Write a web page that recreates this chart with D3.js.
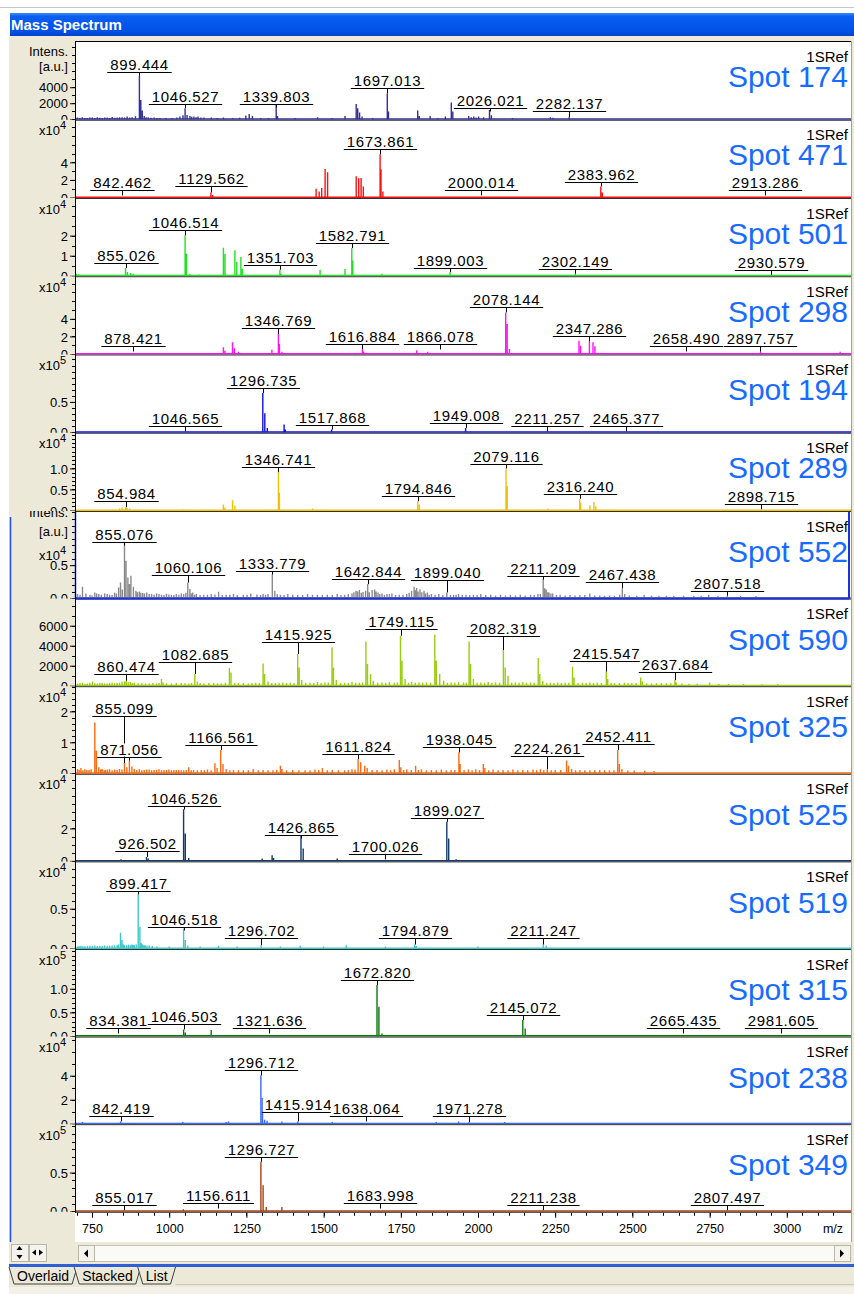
<!DOCTYPE html>
<html><head><meta charset="utf-8">
<script src="https://cdn.jsdelivr.net/npm/d3@7"></script>
<style>
body{margin:0;background:#fff;}
svg{display:block;font-family:"Liberation Sans",Arial,sans-serif;}
</style></head><body><svg id="c" width="854" height="1294"></svg>
<script>
// ---------------- DATA ----------------
const spotNames = ["Spot 174","Spot 471","Spot 501","Spot 298","Spot 194","Spot 289","Spot 552","Spot 590","Spot 325","Spot 525","Spot 519","Spot 315","Spot 238","Spot 349"];
const refName = "1SRef";
const exponents = [0,4,4,4,5,4,4,0,4,4,4,5,4,5];
const yMaxDisplay = [9780,8.9,3.9,8.9,1.29,1.86,1.33,8760,2.83,5.4,1.1,1.85,7.3,1.13];
const majorTicks = [[0,2000,4000],[0,2,4],[0,1,2],[0,2,4],[0,0.5],[0,0.5,1],[0,0.5],[0,2000,4000,6000],[0,1,2],[0,2],[0,0.5],[0,0.5,1],[0,2,4],[0,0.5]];
const minorSteps = [1000,1,0.5,1,0.1,0.1,0.1,1000,0.2,0.5,0.1,0.1,1,0.1];
const tickDecimals = [0,0,0,0,1,1,1,0,0,0,1,1,0,1];
const xTickValues = [750,1000,1250,1500,1750,2000,2250,2500,2750,3000];
const xMinorStep = 50;
const tabNames = ["Overlaid","Stacked","List"];

const spot174Peaks = [[700,210],[708,160],[716,250],[724,150],[732,170],[740,200],[748,210],[756,150],[764,250],[772,180],[780,170],[788,220],[796,210],[804,160],[812,290],[820,180],[828,210],[836,240],[844,250],[852,200],[860,330],[868,220],[876,250],[887,375],
 [899.444,5420],[904,2420],[909,1080],[915,420],[921,260],[928,250],[937,180],[947,210],[956,150],[966,170],[985,150],[1005,170],[1020,200],
 [1030,330],[1040,500],[1046.527,1380],[1053,540],[1062,420],[1068,300],[1075,330],[1082,250],[1088,330],[1097,200],[1107,210],[1131,210],[1150,160],[1170,210],[1200,150],[1222,180],
 [1242,460],[1253,670],[1263,420],[1290,170],[1315,160],[1339.803,1790],[1344,420],[1400,150],[1473,250],[1520,150],[1561,420],
 [1597,1920],[1602,1380],[1608,830],[1616,330],[1650,160],[1697.013,3250],[1701,960],
 [1795,1080],[1800,420],[1835,420],[1860,160],[1884,330],[1903,2080],[1908,960],
 [1959,420],[1967,250],[1975,330],[1983,200],[1991,330],[2007,250],[2026.021,1170],[2032,500],[2100,150],[2222,250],[2230,180],[2282.137,250]];
const spot174Labels = [[899.444,5880],[1046.527,1880],[1339.803,1920],[1697.013,3880],[2026.021,1460],[2282.137,1040]];

const spot471Peaks = [[1129.562,5745],[1135,2680],[1468,9960],[1478,6900],[1486,10720],[1497,32560],[1505,28700],
 [1597,24130],[1605,21800],[1613,22200],[1620,12640],[1673.861,49000],[1677,31800],[1683,6900],[2383.962,12640],[2389,5700]];
const spot471Labels = [[842.462,8000],[1129.562,12600],[1673.861,54700],[2000.014,8000],[2383.962,17200],[2913.286,8000]];

const spot501Peaks = [[697,1000],[705,670],[855.026,3830],[861,1830],[871,1330],[880,1000],[1046.514,20170],[1051,11000],[1062,1000],[1091,670],
 [1170,14000],[1175,11000],[1207,12670],[1213,6830],[1226,9330],[1231,3500],[1351.703,3000],[1355,1000],[1481,3000],[1561,3330],
 [1582.791,13830],[1586,7670],[1680,1000],[1899.003,1830],[2302.149,1000]];
const spot501Labels = [[855.026,6330],[1046.514,22670],[1351.703,5500],[1582.791,16330],[1899.003,3830],[2302.149,3500],[2930.579,3000]];

const spot298Peaks = [[1170,7580],[1175,3790],[1199,13260],[1205,6440],[1218,2650],[1326,4930],[1346.769,22740],[1350,11370],[1358,2650],
 [1616.884,5690],[1621,2650],[1792,4170],[1827,2650],[2078.144,47370],[2083,34110],[2090,5690],[2314,15160],[2319,9480],
 [2347.286,14020],[2359,13260],[2365,8720],[2897.757,2650],[3154,2650]];
const spot298Labels = [[878.421,8720],[1346.769,29180],[1616.884,11370],[1866.078,11370],[2078.144,53820],[2347.286,20850],[2658.490,8720],[2897.757,9480]];

const spot194Peaks = [[1296.735,64660],[1303,31240],[1311,7120],[1365,12600],[1369,4400],[1517.868,4380],[1949.008,7120]];
const spot194Labels = [[1046.565,10960],[1296.735,72880],[1517.868,12600],[1949.008,15340],[2211.257,10960],[2465.377,10960]];

const spot289Peaks = [[836,480],[844,710],[854.984,790],[860,640],[868,480],[1043,240],[1170,1430],[1175,710],[1199,2460],[1207,1190],
 [1346.741,9130],[1350,4210],[1457,480],[1794.846,2220],[1800,1430],[2079.116,10000],[2083,5800],[2214,480],
 [2316.240,2780],[2319,1830],[2349,1190],[2362,1990],[2368,1030]];
const spot289Labels = [[854.984,2220],[1346.741,10320],[1794.846,3410],[2079.116,11120],[2316.240,3810],[2898.715,1430]];

const spot552Peaks = [[703,606],[711,500],[719,1717],[730,707],[743,505],[750,400],[759,859],[765,700],[772,606],[780,500],[791,707],[799,600],[807,505],[815,450],[823,808],[829,700],[836,1616],[842,2374],[848,1300],
 [855.076,8434],[860,5656],[866,3131],[871,2121],[876,3384],[884,1717],[892,1111],[897,900],[903,1010],[908,800],[914,758],[920,700],[927,859],[935,600],[943,606],[951,500],[959,707],[967,600],
 [975,505],[983,450],[991,657],[999,550],[1007,505],[1015,450],[1023,606],[1031,500],[1039,707],[1047,600],[1054,800],[1060.106,2374],[1067,1365],[1072,700],[1076,859],[1082,500],[1088,606],[1100,450],[1112,505],[1124,500],[1136,606],[1148,550],[1160,960],
 [1172,450],[1184,505],[1196,500],[1208,606],[1220,450],[1240,505],[1252,500],[1264,707],[1284,550],[1296,450],[1304,606],[1312,500],[1320,606],[1333.779,3636],[1342,1111],[1350,600],[1360,505],[1372,450],[1384,606],[1400,500],[1416,505],[1432,450],[1448,606],
 [1464,500],[1480,505],[1496,450],[1512,505],[1528,500],[1544,606],[1556,450],[1568,505],[1580,600],[1592,707],[1598,900],[1605,1111],[1610,1000],[1616,1212],[1622,800],[1628,909],[1636,1111],[1642.844,2121],[1648,900],[1657,1212],[1665,1313],
 [1670,1000],[1676,859],[1682,600],[1689,707],[1697,500],[1705,606],[1713,600],[1721,707],[1733,450],[1745,505],[1757,500],[1769,606],[1777,800],[1785,1111],[1793,1717],[1797,1200],[1801,1515],[1806,1000],[1812,1313],[1818,900],[1825,1111],[1830,700],[1836,859],
 [1842,500],[1849,606],[1861,500],[1873,606],[1886,450],[1899.040,859],[1911,450],[1921,505],[1929,500],[1937,606],[1949,450],[1961,505],[1973,450],[1985,505],[1997,450],[2009,606],[2025,450],[2041,505],[2057,400],[2073,505],[2089,400],[2105,505],[2121,400],[2137,505],
 [2153,400],[2170,505],[2182,450],[2194,606],[2202,600],[2211.209,2879],[2216,1500],[2221,1313],[2226,900],[2230,859],[2236,700],[2242,707],[2254,450],[2266,505],[2282,400],[2298,455],[2314,400],[2330,455],[2346,450],[2362,707],[2378,400],[2394,404],[2410,350],[2426,404],[2442,350],
 [2459,500],[2467.438,1465],[2475,600],[2490,404],[2514,350],[2538,505],[2562,350],[2586,354],[2610,350],[2634,354],[2666,350],[2699,354],[2723,350],[2747,505],[2777,350],[2807.518,354],[2850,300],[2900,300]];
const spot552Labels = [[855.076,8585],[1060.106,3535],[1333.779,4040],[1642.844,2879],[1899.040,2727],[2211.209,3384],[2467.438,2374],[2807.518,1111]];

const spot590Peaks = [[703,230],[711,270],[719,300],[727,200],[735,230],[743,280],[751,430],[759,250],[767,230],[775,300],[783,270],[791,220],[799,230],[807,260],[815,300],[823,240],[831,270],[839,300],[847,400],[855,430],[860.474,500],
 [867,350],[874,370],[880,280],[887,300],[899,240],[911,270],[923,220],[935,230],[947,260],[959,230],[967,280],[975,670],[980,330],[991,250],[1007,230],[1023,260],[1039,270],[1051,240],[1063,230],[1072,280],[1082.685,1170],[1091,430],[1100,260],[1112,230],
 [1128,260],[1144,270],[1156,240],[1168,230],[1182,300],[1195,1770],[1200,1330],[1212,280],[1224,270],[1240,260],[1256,230],[1268,270],[1280,300],[1292,280],[1304,2230],[1309,1170],[1320,430],[1332,260],[1344,270],[1356,280],[1368,330],[1380,270],
 [1392,300],[1404,280],[1415.925,3170],[1421,1830],[1429,570],[1442,280],[1456,300],[1468,270],[1480,370],[1492,280],[1504,330],[1515,300],[1527,3830],[1532,1830],[1541,570],[1555,280],[1568,300],[1580,270],[1592,370],[1604,300],
 [1616,300],[1626,330],[1637,4430],[1642,2170],[1652,1170],[1661,500],[1675,300],[1689,330],[1701,300],[1713,370],[1729,300],[1739,330],[1749.115,5000],[1754,2500],[1764,670],[1775,300],[1785,370],[1797,300],
 [1809,330],[1821,300],[1833,330],[1846,300],[1860,5100],[1865,2500],[1876,1170],[1889,500],[1901,300],[1913,330],[1925,300],[1937,370],[1953,330],[1962,300],[1971,4430],[1976,2170],[1985,670],[1997,300],
 [2009,330],[2021,300],[2033,370],[2045,300],[2057,330],[2070,300],[2082.319,3570],[2088,1830],[2097,1000],[2109,300],[2121,330],[2133,300],[2145,370],[2157,300],[2170,330],[2182,300],[2195,2770],[2200,1170],[2210,500],
 [2222,300],[2234,300],[2246,280],[2258,330],[2270,280],[2282,300],[2294,300],[2306,1900],[2311,830],[2324,280],[2338,300],[2350,280],[2362,330],[2374,280],[2386,300],[2400,280],[2415.547,1400],[2420,670],[2431,280],[2442,270],[2458,260],[2474,300],
 [2486,260],[2498,270],[2512,260],[2527,830],[2532,430],[2546,240],[2562,230],[2578,250],[2594,270],[2610,240],[2624,250],[2637.684,570],[2642,330],[2660,230],[2683,200],[2710,200],[2750,330],[2780,180],[2811,170],[2860,160],[2920,150],[2971,170]];
const spot590Labels = [[860.474,1170],[1082.685,2330],[1415.925,4400],[1749.115,5660],[2082.319,5000],[2415.547,2430],[2637.684,1400]];

const spot325Peaks = [[703,1400],[708,1100],[714,1720],[720,1000],[727,1290],[733,1100],[740,1080],[747,1300],[759,16450],[764,7310],[772,1940],[778,1200],[783,1400],[789,1000],[794,1080],[800,1200],[807,1290],[815,1000],[823,1180],[831,1100],
 [839,1400],[847,1200],[855.099,3330],[863,1940],[871.056,4090],[879,2150],[887,1400],[895,1100],[903,1290],[911,1000],[919,1080],[927,1200],[935,1180],[943,1000],[951,1080],[959,1150],[967,1290],[975,1000],[983,1080],
 [991,1100],[999,1180],[1007,1000],[1015,1080],[1023,1100],[1031,1080],[1039,1000],[1047,970],[1055,1100],[1063,1940],[1071,1000],[1079,1080],[1091,1000],[1104,1080],[1114,1000],[1124,1180],[1136,1000],[1148,3230],[1155,1720],[1166.561,7530],
 [1174,3010],[1184,1400],[1196,1000],[1208,1080],[1224,1000],[1240,970],[1256,1000],[1272,1400],[1288,1000],[1304,1080],[1320,1000],[1336,970],[1348,1100],[1360,2470],[1365,1400],[1380,1000],[1400,1080],[1420,1000],[1440,970],[1456,1000],[1472,1180],
 [1484,1100],[1496,1720],[1512,1000],[1528,1080],[1548,1000],[1568,970],[1580,1100],[1592,1290],[1602,1200],[1611.824,4620],[1620,3550],[1633,2470],[1641,1720],[1657,1100],[1673,1080],[1689,1000],[1705,1180],[1717,1000],[1729,1290],
 [1745,4300],[1750,1940],[1759,1100],[1769,1180],[1784,1100],[1798,2470],[1807,1100],[1817,1290],[1833,1000],[1849,1080],[1865,1000],[1881,1180],[1897,1000],[1913,1080],[1925,1100],[1938.045,6770],[1942,3010],[1955,1100],[1969,1180],
 [1981,1000],[1993,1290],[2005,1100],[2017,3010],[2022,1720],[2035,1000],[2049,1180],[2065,1000],[2081,1080],[2097,1000],[2113,1180],[2129,1000],[2145,1080],[2161,1000],[2178,1180],[2190,1000],[2202,1290],[2213,1100],[2224.261,1400],[2237,1000],[2250,1080],
 [2268,1100],[2287,4090],[2293,2470],[2303,1400],[2316,1000],[2330,1080],[2346,1000],[2362,970],[2378,1000],[2394,1080],[2410,1000],[2426,970],[2440,1000],[2452.411,7530],[2458,3010],[2466,1400],[2485,900],[2506,860],[2540,800],[2570,750]];
const spot325Labels = [[855.099,18380],[871.056,5375],[1166.561,9140],[1611.824,6235],[1938.045,8600],[2224.261,5700],[2452.411,9460]];

const spot525Peaks = [[844,1030],[926.502,2470],[932,1440],[1046.526,31900],[1052,16880],[1063,1850],[1301,1440],[1333,3500],[1338,1850],
 [1426.865,15440],[1434,7610],[1544,1440],[1899.027,24080],[1905,13790],[1929,1030]];
const spot525Labels = [[926.502,6170],[1046.526,33750],[1426.865,16260],[1700.026,4530],[1899.027,26550]];

const spot519Peaks = [[703,250],[708,300],[714,340],[720,280],[727,290],[735,300],[743,340],[751,300],[759,380],[767,300],[775,340],[783,320],[791,380],[799,300],[807,340],[815,360],[823,420],[831,400],[836,500],[842,1970],[847,1050],[851,500],[855,420],
 [862,400],[868,460],[874,420],[879,500],[883,440],[887,420],[893,500],[899.417,6800],[905,2730],[909,700],[913,500],[918,400],[922,420],[928,360],[935,380],[945,300],[960,260],[1000,250],[1046.518,2520],[1052,1050],[1060,340],[1100,250],[1160,340],
 [1220,250],[1298,420],[1360,250],[1424,340],[1500,250],[1573,420],[1700,250],[1794.879,500],[1800,300],[2000,250],[2211.247,500],[2221,340]];
const spot519Labels = [[899.417,7270],[1046.518,2730],[1296.702,1260],[1794.879,1260],[2211.247,1260]];

const spot315Peaks = [[1046.503,14080],[1052,7740],[1136,12670],[1672.820,107700],[1679,61950],[1689,5630],[2145.072,33800],[2153,16200]];
const spot315Labels = [[834.381,17600],[1046.503,26050],[1321.636,16190],[1672.820,118270],[2145.072,44350],[2665.435,16190],[2981.605,16190]];

const spot238Peaks = [[719,1390],[842.419,1950],[1044,1390],[1184,1390],[1192,1950],[1296.712,40300],[1302,21400],[1309,3340],[1317,2500],
 [1365,1950],[1415.914,1950],[1528,1390],[1865,1390],[1937,1950],[1971.278,1390],[2086,1390]];
const spot238Labels = [[842.419,6670],[1296.712,44480],[1415.914,9730],[1638.064,6120],[1971.278,6120]];

const spot349Peaks = [[1046,2590],[1296.727,63800],[1304,33600],[1314,5600],[1365,5600]];
const spot349Labels = [[855.017,8620],[1156.611,10780],[1296.727,70250],[1683.998,10780],[2211.238,8620],[2807.497,8620]];

const allPeaks = [spot174Peaks,spot471Peaks,spot501Peaks,spot298Peaks,spot194Peaks,spot289Peaks,spot552Peaks,spot590Peaks,spot325Peaks,spot525Peaks,spot519Peaks,spot315Peaks,spot238Peaks,spot349Peaks];
const allLabels = [spot174Labels,spot471Labels,spot501Labels,spot298Labels,spot194Labels,spot289Labels,spot552Labels,spot590Labels,spot325Labels,spot525Labels,spot519Labels,spot315Labels,spot238Labels,spot349Labels];

// ---------------- STYLE / LAYOUT ----------------
const spotColors = ["#30309a","#ff1010","#22e022","#ff10ff","#1010e8","#f2c200","#8a8a8a","#9acc10","#ff6a10","#123a6e","#3cc8cc","#0a7a0a","#3a66ff","#a8400c"];
const W = 854, H = 1294;
const plotL = 75, plotR = 851;
const svg = d3.select("#c");
const defs = svg.append("defs");

svg.append("rect").attr("width",W).attr("height",H).attr("fill","#fff");
svg.append("line").attr("x1",0).attr("x2",W).attr("y1",7.5).attr("y2",7.5).attr("stroke","#c9c9c9");
svg.append("rect").attr("x",9).attr("y",36).attr("width",W-9).attr("height",1251).attr("fill","#ECE9D8");
svg.append("rect").attr("x",9).attr("y",1287).attr("width",W-9).attr("height",7).attr("fill","#F3F1E8");

// title bar
const tg = defs.append("linearGradient").attr("id","tb").attr("x1",0).attr("x2",0).attr("y1",0).attr("y2",1);
tg.append("stop").attr("offset","0").attr("stop-color","#3a8cff");
tg.append("stop").attr("offset","0.15").attr("stop-color","#0a5ff0");
tg.append("stop").attr("offset","0.8").attr("stop-color","#0050e6");
tg.append("stop").attr("offset","1").attr("stop-color","#0040c8");
svg.append("rect").attr("x",10).attr("y",13).attr("width",W-10).attr("height",23).attr("fill","url(#tb)");
svg.append("text").attr("x",11).attr("y",30).attr("fill","#fff").attr("font-weight","bold").attr("font-size",15).text("Mass Spectrum");

// plot area
svg.append("rect").attr("x",plotL).attr("y",41).attr("width",plotR-plotL).attr("height",1201).attr("fill","#fff");
svg.append("line").attr("x1",plotL).attr("x2",plotR).attr("y1",41.5).attr("y2",41.5).attr("stroke","#000");
svg.append("line").attr("x1",plotR+0.5).attr("x2",plotR+0.5).attr("y1",41).attr("y2",1242).attr("stroke","#a0a0a0");
svg.append("line").attr("x1",10.5).attr("x2",10.5).attr("y1",517).attr("y2",1242).attr("stroke","#2050e0").attr("stroke-width",1.5);

const xTop = d3.scaleLinear().domain([692.4,3189]).range([plotL,plotR]);
const xBot = d3.scaleLinear().domain([694.8,3208]).range([plotL,plotR]);

function panelBox(i){
  if(i<6){ const t = 41 + i*78.25; return [t, t+78.25]; }
  const t = 510.5 + (i-6)*87.6; return [t, t+87.6];
}

allPeaks.forEach((peaks,i)=>{
  const [top, base] = panelBox(i);
  const h = base-top;
  const mult = Math.pow(10, exponents[i]);
  const x = i<6 ? xTop : xBot;
  const y = d3.scaleLinear().domain([0, yMaxDisplay[i]*mult]).range([base, top]);
  const col = spotColors[i];

  const cid = "clip"+i;
  defs.append("clipPath").attr("id",cid).append("rect").attr("x",0).attr("y",top+0.5).attr("width",plotR).attr("height",h);
  const g = svg.append("g").attr("clip-path",`url(#${cid})`);

  // y axis
  const ax = d3.axisLeft(y).tickValues(majorTicks[i].map(v=>v*mult)).tickSize(5).tickPadding(2)
    .tickFormat(d=>(d/mult).toFixed(tickDecimals[i]));
  const ag = g.append("g").attr("transform",`translate(${plotL},0)`).call(ax);
  ag.select(".domain").remove();
  ag.selectAll("text").attr("font-size",13).attr("font-family","Liberation Sans, Arial, sans-serif").attr("fill","#000").attr("dy","0.36em");
  ag.selectAll("line").attr("stroke","#000");
  const minor = d3.range(0, yMaxDisplay[i]+1e-9, minorSteps[i]);
  g.append("g").selectAll("line").data(minor).join("line")
    .attr("x1",plotL-3).attr("x2",plotL).attr("y1",d=>Math.round(y(d*mult))+0.5).attr("y2",d=>Math.round(y(d*mult))+0.5).attr("stroke","#000");

  // labels on axis
  let expY = top+16;
  if(i===0){
    g.append("text").attr("x",68).attr("y",top+14.5).attr("text-anchor","end").attr("font-size",13).text("Intens.");
    g.append("text").attr("x",68).attr("y",top+29.5).attr("text-anchor","end").attr("font-size",13).text("[a.u.]");
  }
  if(i===6){
    g.append("text").attr("x",68).attr("y",top+6).attr("text-anchor","end").attr("font-size",13).text("Intens.");
    g.append("text").attr("x",68).attr("y",top+25.5).attr("text-anchor","end").attr("font-size",13).text("[a.u.]");
    expY = top+49;
  }
  if(exponents[i]>0){
    const et = g.append("text").attr("x",39).attr("y",expY).attr("font-size",13).text("x10");
    et.append("tspan").attr("dy",-6).attr("font-size",11).text(exponents[i]);
  }

  // spectrum
  const pg = g.append("g");
  pg.append("path").attr("d", peaks.map(p=>`M${x(p[0]).toFixed(1)},${base}V${y(p[1]).toFixed(1)}`).join(""))
    .attr("stroke",col).attr("stroke-width",1.4).attr("fill","none");

  // peak labels
  const cg = g.append("g"), bg = g.append("g");
  allLabels[i].forEach(([mz,lvl])=>{
    const cx = Math.round(x(mz))+0.5;
    const by = Math.round(y(lvl))+0.5;
    const near = peaks.filter(p=>Math.abs(p[0]-mz)<=4);
    let ey = near.length ? y(d3.max(near,p=>p[1])) : by+5;
    if(ey < by+3) ey = by+3;
    cg.append("line").attr("x1",cx).attr("x2",cx).attr("y1",by).attr("y2",ey).attr("stroke","#000");
    const rect = bg.append("rect").attr("fill","#fff");
    const t = bg.append("text").attr("x",cx).attr("y",by-3).attr("text-anchor","middle")
      .attr("font-size",15).attr("letter-spacing","0.6px").attr("fill","#000").text(mz.toFixed(3));
    const w = t.node().getComputedTextLength();
    rect.attr("x",cx-w/2-2).attr("y",by-14).attr("width",w+4).attr("height",13);
    bg.append("line").attr("x1",cx-w/2-3).attr("x2",cx+w/2+3).attr("y1",by).attr("y2",by).attr("stroke","#000");
  });

  // names
  g.append("text").attr("x",848).attr("y",top+21).attr("text-anchor","end").attr("font-size",15).attr("fill","#000").text(refName);
  g.append("text").attr("x",848).attr("y",top+h*0.59).attr("text-anchor","end").attr("font-size",30).attr("fill","#176cff").text(spotNames[i]);

  // baseline + separator
  svg.append("line").attr("x1",plotL).attr("x2",plotR).attr("y1",base-0.25).attr("y2",base-0.25).attr("stroke",col).attr("stroke-width",1.5);
  svg.append("line").attr("x1",plotL).attr("x2",plotR).attr("y1",base+1).attr("y2",base+1).attr("stroke","#303030").attr("stroke-width",1);

  if(i===6){
    const fc = "#1a2fe8";
    svg.append("line").attr("x1",plotL+0.5).attr("x2",plotL+0.5).attr("y1",top+1).attr("y2",base+1).attr("stroke",fc).attr("stroke-width",1.5);
    svg.append("line").attr("x1",849).attr("x2",849).attr("y1",top+1).attr("y2",base+1).attr("stroke",fc).attr("stroke-width",2);
    svg.append("line").attr("x1",plotL).attr("x2",849).attr("y1",base+0.5).attr("y2",base+0.5).attr("stroke",fc).attr("stroke-width",2);
  }
});

// left axis line
svg.append("line").attr("x1",plotL+0.5).attr("x2",plotL+0.5).attr("y1",41).attr("y2",1213).attr("stroke","#000");

// x axis
const [, lastBase] = panelBox(13);
const xg = svg.append("g").attr("transform",`translate(0,${lastBase+1.5})`)
  .call(d3.axisBottom(xBot).tickValues(xTickValues).tickSize(5).tickPadding(6).tickFormat(d3.format("d")));
xg.select(".domain").remove();
xg.selectAll("text").attr("font-size",12.5).attr("font-family","Liberation Sans, Arial, sans-serif").attr("fill","#000");
xg.selectAll("line").attr("stroke","#000");
svg.append("g").selectAll("line").data(d3.range(700,3200,xMinorStep)).join("line")
  .attr("x1",d=>Math.round(xBot(d))+0.5).attr("x2",d=>Math.round(xBot(d))+0.5)
  .attr("y1",lastBase+1.5).attr("y2",lastBase+4.5).attr("stroke","#000");
svg.append("text").attr("x",833).attr("y",lastBase+22).attr("font-size",12.5).attr("text-anchor","middle").text("m/z");

// scroll row
function button(x0,y0,w,h){
  svg.append("rect").attr("x",x0+0.5).attr("y",y0+0.5).attr("width",w).attr("height",h).attr("fill","#F4F3EE").attr("stroke","#b9b7a8");
}
button(11,1244,17,17); button(29,1244,17,17);
svg.append("path").attr("d","M19.5,1246l-3,4h6z M19.5,1259l-3,-4h6z").attr("fill","#000");
svg.append("path").attr("d","M32,1252.5l4,-3v6z M43,1252.5l-4,-3v6z").attr("fill","#000");
svg.append("rect").attr("x",78.5).attr("y",1245.5).attr("width",772).attr("height",16).attr("fill","#FAFAF7").attr("stroke","#c5c3b5");
button(78,1245,16,16); button(834,1245,16,16);
svg.append("path").attr("d","M84,1253.5l4,-4v8z").attr("fill","#000");
svg.append("path").attr("d","M844,1253.5l-4,-4v8z").attr("fill","#000");

// blue line
svg.append("rect").attr("x",9).attr("y",1264).attr("width",W-9).attr("height",3).attr("fill","#2f5fd6");

// tabs
let tx = 9;
tabNames.forEach((name,k)=>{
  const t = svg.append("text").attr("y",1281).attr("font-size",14).text(name);
  const w = t.node().getComputedTextLength();
  const x0 = tx, x1 = tx + w + 16;
  svg.insert("path", ()=>t.node()).attr("d",`M${x0},1267 L${x0+5},1284 L${x1-5},1284 L${x1},1267`).attr("fill","#ECE9D8").attr("stroke","#404040");
  t.attr("x",x0+8);
  tx = x1 - 3;
});
svg.append("line").attr("x1",tx+3).attr("x2",W).attr("y1",1284.5).attr("y2",1284.5).attr("stroke","#c9c7ba");
</script></body></html>
